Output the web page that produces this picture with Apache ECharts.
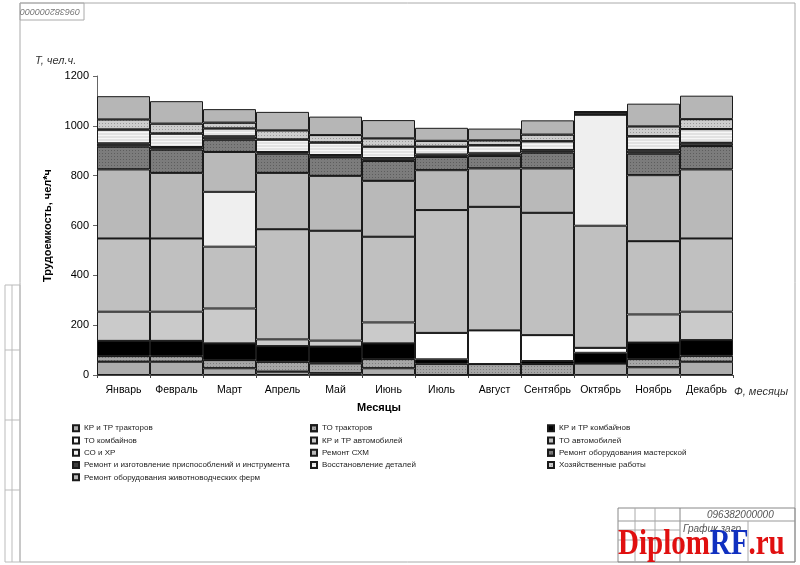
<!DOCTYPE html>
<html><head><meta charset="utf-8">
<script src="https://cdn.jsdelivr.net/npm/echarts@6/dist/echarts.min.js"></script>
<style>html,body{margin:0;padding:0;background:#fff}#c{width:800px;height:565px}</style>
</head><body><div id="c"></div>
<script>
const months = ['Январь','Февраль','Март','Апрель','Май','Июнь','Июль','Август','Сентябрь','Октябрь','Ноябрь','Декабрь'];
const yTicks = [0,200,400,600,800,1000,1200];
const seriesNames = [
  'КР и ТР тракторов','ТО тракторов','КР и ТР комбайнов',
  'ТО комбайнов','КР и ТР автомобилей','ТО автомобилей',
  'СО и ХР','Ремонт СХМ','Ремонт оборудования мастерской',
  'Ремонт и изготовление приспособлений и инструмента','Восстановление деталей','Хозяйственные работы',
  'Ремонт оборудования животноводческих ферм'
];
// values, чел*ч, Jan..Dec
const krTraktorov    = [53, 53, 27, 13,  7, 27,  0,  0,  0, 46, 31, 53];
const toTraktorov    = [23, 23, 33, 40, 40, 37, 45, 44, 44,  0, 33, 24];
const krKombainov    = [61, 61, 67, 63, 67, 63, 18,  0, 12, 43, 66, 63];
const toKombainov    = [ 0,  0,  0,  0,  0,  0,106,135,104, 20,  0,  0];
const krAvto         = [117,117,140, 27, 24, 84,  0,  0,  0,  0,113,114];
const toAvto         = [294,294,248,442,441,344,493,496,491,490,294,294];
const soXr           = [ 0,  0,220,  0,  0,  0,  0,  0,  0,446,  0,  0];
const remontSxm      = [277,263,160,226,220,224,160,154,178,  0,265,277];
const remMasterskoi  = [92, 94, 50, 78, 75, 80, 53, 50, 64,  0, 87, 94];
const remPrisposobl  = [12, 10, 13,  6,  9, 11, 10, 10,  9, 10, 13, 13];
const vosstDetalei   = [56, 54, 31, 50, 50, 46, 31, 33, 36,  0, 56, 55];
const xozRaboty      = [41, 40, 24, 37, 30, 34, 24, 20, 27,  0, 40, 40];
const remFerm        = [93, 90, 54, 74, 74, 73, 52, 47, 57,  0, 91, 94];
const seriesValues = [krTraktorov,toTraktorov,krKombainov,toKombainov,krAvto,toAvto,soXr,remontSxm,remMasterskoi,remPrisposobl,vosstDetalei,xozRaboty,remFerm];

const colors = ['#adadad','#a6a6a6','#000000','#ffffff','#cacaca','#c0c0c0','#efefef','#b9b9b9','#7c7c7c','#3c3c3c','#e2e2e2','#cdcdcd','#b6b6b6'];
const dots = {symbol:'rect',symbolSize:1,dashArrayX:[[1,2]],dashArrayY:[1,2],color:'rgba(0,0,0,0.25)',rotation:0};
const stripes = {symbol:'rect',symbolSize:1,dashArrayX:[1,0],dashArrayY:[1,2],color:'rgba(255,255,255,0.7)',rotation:0};
const decals = [null,dots,null,null,null,null,null,null,dots,null,stripes,dots,null];

const series = seriesNames.map((n,i)=>({
  name:n, type:'bar', stack:'t', data:seriesValues[i],
  barWidth:'100%', barCategoryGap:0,
  itemStyle:Object.assign({color:colors[i],borderColor:'#1a1a1a',borderWidth:1}, decals[i]?{decal:decals[i]}:{}),
  emphasis:{disabled:true}
}));

const legendBase = {orient:'vertical',itemWidth:6,itemHeight:6,itemGap:4,icon:'rect',
  textStyle:{fontSize:8,fontFamily:'Liberation Sans, Arial',color:'#222',lineHeight:8.3},selectedMode:false};
const col = k => seriesNames.filter((_,i)=>i%3===k);

const chart = echarts.init(document.getElementById('c'),null,{renderer:'canvas'});
chart.setOption({
  animation:false,
  backgroundColor:'#fff',
  grid:{left:97,right:67,top:76,bottom:190,containLabel:false},
  xAxis:{type:'category',data:months,
    axisLine:{lineStyle:{color:'#444'}},axisTick:{show:true,lineStyle:{color:'#444'},length:3},
    axisLabel:{interval:0,fontSize:10.5,color:'#000',fontFamily:'Liberation Sans, Arial',margin:10}},
  yAxis:{type:'value',min:0,max:1200,interval:200,
    name:'Трудоемкость, чел*ч',nameLocation:'middle',nameGap:38,
    nameTextStyle:{fontSize:11,fontWeight:'bold',color:'#000',fontFamily:'Liberation Sans, Arial'},
    axisLine:{show:true,lineStyle:{color:'#666'}},axisTick:{show:true,length:4,lineStyle:{color:'#666'}},
    splitLine:{show:false},
    axisLabel:{fontSize:11,color:'#000',fontFamily:'Liberation Sans, Arial',margin:8,
      formatter:v=>yTicks.includes(v)?String(v):''}},
  legend:[
    Object.assign({left:67,top:419,data:col(0)},legendBase),
    Object.assign({left:305,top:419,data:col(1)},legendBase),
    Object.assign({left:542,top:419,data:col(2)},legendBase)
  ],
  series:series,
  graphic:[
    // drawing frame
    {type:'rect',shape:{x:20,y:3,width:775,height:559},style:{fill:'none',stroke:'#aaa',lineWidth:1},silent:true},
    {type:'rect',shape:{x:20,y:3,width:64,height:17},style:{fill:'none',stroke:'#aaa',lineWidth:1},silent:true},
    {type:'text',x:80,y:16,rotation:Math.PI,style:{text:'096382000000',fontSize:9,fontStyle:'italic',fill:'#777',fontFamily:'Liberation Sans, Arial'}},
    {type:'rect',shape:{x:5,y:285,width:15,height:277},style:{fill:'none',stroke:'#bbb',lineWidth:1},silent:true},
    {type:'line',shape:{x1:12,y1:285,x2:12,y2:562},style:{stroke:'#bbb'}},
    {type:'line',shape:{x1:5,y1:350,x2:20,y2:350},style:{stroke:'#bbb'}},
    {type:'line',shape:{x1:5,y1:420,x2:20,y2:420},style:{stroke:'#bbb'}},
    {type:'line',shape:{x1:5,y1:490,x2:20,y2:490},style:{stroke:'#bbb'}},
    // title block
    {type:'rect',shape:{x:618,y:508,width:177,height:54},style:{fill:'none',stroke:'#888',lineWidth:1},silent:true},
    {type:'line',shape:{x1:680,y1:508,x2:680,y2:562},style:{stroke:'#888'}},
    {type:'line',shape:{x1:618,y1:521,x2:795,y2:521},style:{stroke:'#999'}},
    {type:'line',shape:{x1:618,y1:530,x2:680,y2:530},style:{stroke:'#aaa'}},
    {type:'line',shape:{x1:618,y1:540,x2:680,y2:540},style:{stroke:'#aaa'}},
    {type:'line',shape:{x1:635,y1:508,x2:635,y2:562},style:{stroke:'#aaa'}},
    {type:'line',shape:{x1:655,y1:508,x2:655,y2:562},style:{stroke:'#aaa'}},
    {type:'line',shape:{x1:748,y1:521,x2:748,y2:562},style:{stroke:'#aaa'}},
    {type:'text',x:707,y:510,style:{text:'096382000000',fontSize:10,fontStyle:'italic',fill:'#555',fontFamily:'Liberation Sans, Arial'}},
    {type:'text',x:683,y:524,style:{text:'График загр.',fontSize:10,fontStyle:'italic',fill:'#555',fontFamily:'Liberation Sans, Arial'}},
    // watermark
    {type:'text',x:618,y:527,scaleY:1.25,style:{rich:{r:{fill:'#e01010'},b:{fill:'#1030c0'}},text:'{r|Diplom}{b|RF}{r|.ru}',fontSize:29,fontWeight:'bold',fontFamily:'Liberation Serif, DejaVu Serif, serif'}},
    // annotations
    {type:'text',x:35,y:55,style:{text:'Т, чел.ч.',fontSize:11,fontStyle:'italic',fill:'#333',fontFamily:'Liberation Sans, Arial'}},
    {type:'text',x:734,y:386,style:{text:'Ф, месяцы',fontSize:11,fontStyle:'italic',fill:'#333',fontFamily:'Liberation Sans, Arial'}},
    {type:'text',x:357,y:402,style:{text:'Месяцы',fontSize:11,fontWeight:'bold',fill:'#000',fontFamily:'Liberation Sans, Arial'}}
  ]
});
</script></body></html>
